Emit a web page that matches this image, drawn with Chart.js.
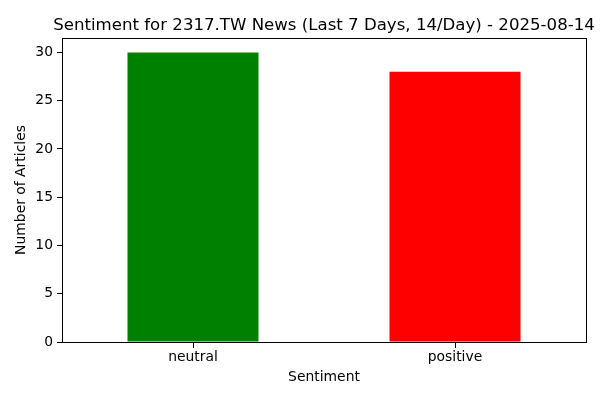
<!DOCTYPE html>
<html>
<head>
<meta charset="utf-8">
<script src="https://cdn.jsdelivr.net/npm/chart.js@4"></script>
<style>
  html, body { margin: 0; padding: 0; background: #fff; }
  canvas { display: block; }
</style>
</head>
<body>
<canvas id="chart" width="600" height="400"></canvas>
<script>
// data
var categories = ['neutral', 'positive']
var counts = [30, 28]
var barColors = ['#008000', '#ff0000']
var yTicks = [0, 5, 10, 15, 20, 25, 30]
var titleText = 'Sentiment for 2317.TW News (Last 7 Days, 14/Day) - 2025-08-14'

var font = 'DejaVu Sans'

// box round the plot, x tick marks and the title, matplotlib style
var frame = {
    id: 'frame',
    afterDraw: function(c) {
        var a = c.chartArea
        var ctx = c.ctx
        ctx.save()
        ctx.strokeStyle = '#000'
        ctx.lineWidth = 1
        ctx.strokeRect(Math.round(a.left) + 0.5, Math.round(a.top) + 0.5,
            Math.round(a.right - a.left), Math.round(a.bottom - a.top))

        // tick marks under the middle of each bar
        var bars = c.getDatasetMeta(0).data
        ctx.fillStyle = '#000'
        for (var i = 0; i < bars.length; i++) {
            var px = Math.floor(bars[i].x)
            ctx.fillRect(px, Math.round(a.bottom), 1, 6)
        }

        ctx.font = '16.6px "' + font + '"'
        ctx.textAlign = 'center'
        ctx.textBaseline = 'alphabetic'
        ctx.fillText(titleText, (a.left + a.right) / 2, a.top - 8)
        ctx.restore()
    }
}

var chart = new Chart(document.getElementById('chart'), {
    type: 'bar',
    data: {
        labels: categories,
        datasets: [{
            label: 'count',
            data: counts,
            backgroundColor: barColors,
            borderWidth: 0,
            categoryPercentage: 1.0,
            barPercentage: 0.5
        }]
    },
    options: {
        responsive: false,
        animation: false,
        devicePixelRatio: 1,
        layout: { padding: { left: 0, right: 14, top: 38, bottom: 0 } },
        plugins: {
            legend: { display: false },
            tooltip: { enabled: false },
            title: { display: false }
        },
        scales: {
            x: {
                offset: true,
                grid: { display: false, drawTicks: false, tickLength: 0 },
                border: { display: false },
                ticks: { color: '#000', padding: 7, font: { family: font, size: 13.9 } },
                title: {
                    display: true,
                    text: 'Sentiment',
                    color: '#000',
                    font: { family: font, size: 13.9 },
                    padding: { top: 0, bottom: 14 }
                },
                afterFit: function(s) { s.height = 58 }
            },
            y: {
                min: 0,
                max: 31.5,
                afterBuildTicks: function(s) {
                    s.ticks = yTicks.map(function(v) { return { value: v } })
                },
                grid: { display: true, drawOnChartArea: false, drawTicks: true, tickLength: 5, color: '#000' },
                border: { display: false },
                ticks: { color: '#000', padding: 4, font: { family: font, size: 13.9 } },
                title: {
                    display: true,
                    text: 'Number of Articles',
                    color: '#000',
                    font: { family: font, size: 13.9 },
                    padding: { top: 13, bottom: 12 }
                },
                afterFit: function(s) { s.width = 62 }
            }
        }
    },
    plugins: [frame]
});
</script>
</body>
</html>
